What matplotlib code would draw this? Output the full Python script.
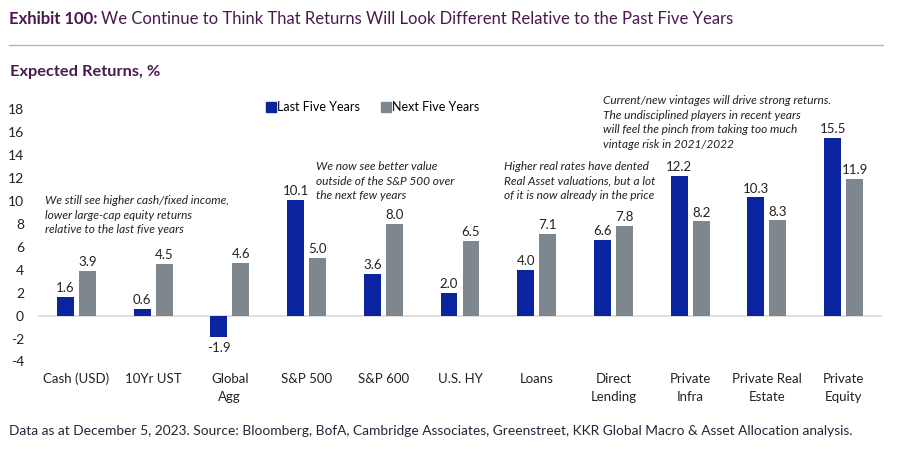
import numpy as np
import matplotlib
matplotlib.use("Agg")
import matplotlib.pyplot as plt
from matplotlib.lines import Line2D

plt.rcParams['font.family'] = ['Lato', 'DejaVu Sans']

categories = ['Cash (USD)', '10Yr UST', 'Global\nAgg', 'S&P 500', 'S&P 600', 'U.S. HY',
              'Loans', 'Direct\nLending', 'Private\nInfra', 'Private Real\nEstate', 'Private\nEquity']
last_five = [1.6, 0.6, -1.9, 10.1, 3.6, 2.0, 4.0, 6.6, 12.2, 10.3, 15.5]
next_five = [3.9, 4.5, 4.6, 5.0, 8.0, 6.5, 7.1, 7.8, 8.2, 8.3, 11.9]
yticks = [-4, -2, 0, 2, 4, 6, 8, 10, 12, 14, 16, 18]

BLUE = '#0A24A0'
GRAY = '#7E878D'
PURPLE = '#4A1A4F'

fig = plt.figure(figsize=(9.04, 4.57), dpi=100)
W, H = 904, 457

def fx(px):
    return px / W

def fy(py):
    return 1 - py / H

ax = fig.add_axes([fx(38), fy(361.5), fx(882 - 38), fy(109) - fy(361.5)])

x = np.arange(len(categories))
bw = 0.22
off = 0.143
b1 = ax.bar(x - off, last_five, bw, color=BLUE, zorder=3)
b2 = ax.bar(x + off, next_five, bw, color=GRAY, zorder=3)

for bars in (b1, b2):
    for rect in bars:
        v = rect.get_height()
        xc = rect.get_x() + rect.get_width() / 2
        if v >= 0:
            ax.annotate(f'{v:.1f}', (xc, v), xytext=(0, 2), textcoords='offset points',
                        ha='center', va='bottom', fontsize=9.5, color='#222222')
        else:
            ax.annotate(f'{v:.1f}', (xc, v), xytext=(0, -3), textcoords='offset points',
                        ha='center', va='top', fontsize=9.5, color='#222222')

ax.axhline(0, color='#D9D9D9', lw=1.2, zorder=2)
ax.set_xlim(-0.5, len(categories) - 0.5)
ax.set_ylim(-4, 18)
ax.set_yticks(yticks)
ax.set_yticklabels([str(t) for t in yticks], fontsize=10, color='#222222')
ax.set_xticks(x)
ax.set_xticklabels(categories, fontsize=9.5, color='#222222', linespacing=1.65)
ax.tick_params(axis='both', length=0)
ax.tick_params(axis='x', pad=8)
ax.tick_params(axis='y', pad=10)
for s in ax.spines.values():
    s.set_visible(False)

# legend
handles = [Line2D([], [], marker='s', ls='', color=BLUE, markersize=6.5),
           Line2D([], [], marker='s', ls='', color=GRAY, markersize=6.5)]
fig.legend(handles, ['Last Five Years', 'Next Five Years'], loc='center left',
           bbox_to_anchor=(fx(255), fy(107)), ncol=2, frameon=False, fontsize=9,
           handletextpad=0.05, columnspacing=1.7, handlelength=0.8)

# annotations, one text per line
notes = [
    (45, 201, ['We still see higher cash/fixed income,', 'lower large-cap equity returns',
               'relative to the last five years']),
    (316, 167, ['We now see better value', 'outside of the S&P 500 over', 'the next few years']),
    (504, 167, ['Higher real rates have dented', 'Real Asset valuations, but a lot',
                'of it is now already in the price']),
    (603, 101, ['Current/new vintages will drive strong returns.',
                'The undisciplined players in recent years',
                'will feel the pinch from taking too much', 'vintage risk in 2021/2022']),
]
for px, py, lines in notes:
    for i, line in enumerate(lines):
        fig.text(fx(px), fy(py + i * 14.4), line, fontsize=8.6, style='italic',
                 color='#222222', ha='left', va='center')

# title, rule, subtitle, footer
t1 = fig.text(fx(9), fy(19.5), 'Exhibit 100:', fontsize=12, fontweight='bold', color=PURPLE,
              va='center')
fig.canvas.draw()
bb = t1.get_window_extent()
fig.text((bb.x1 + 4) / W, fy(19.5),
         'We Continue to Think That Returns Will Look Different Relative to the Past Five Years',
         fontsize=12, color=PURPLE, va='center')
fig.add_artist(Line2D([fx(9), fx(883)], [fy(45), fy(45)], color='#B5B5B8', lw=1))
fig.text(fx(10), fy(72), 'Expected Returns, %', fontsize=11.8, fontweight='bold', color=PURPLE,
         va='center')
fig.text(fx(9), fy(431), 'Data as at December 5, 2023. Source: Bloomberg, BofA, Cambridge Associates, '
         'Greenstreet, KKR Global Macro & Asset Allocation analysis.',
         fontsize=9.9, color='#1E2A38', va='center')

fig.savefig('out.png', dpi=100)
